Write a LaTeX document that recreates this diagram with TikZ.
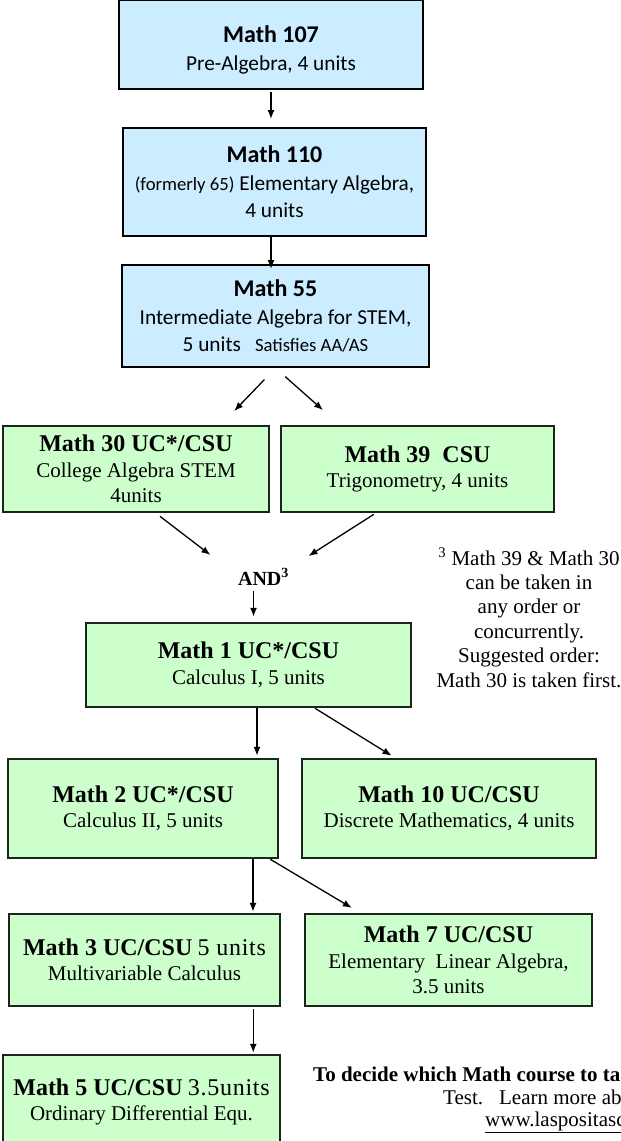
\documentclass[tikz,border=0pt]{standalone}
\usepackage{fontspec}
\setmainfont{Liberation Serif}
\newfontfamily\calibrifont{Carlito}
\usetikzlibrary{arrows.meta}
\definecolor{skyfill}{HTML}{CCECFF}
\definecolor{mintfill}{HTML}{CCFFCC}
\definecolor{mintline}{HTML}{1A261A}
\newcommand{\boxtitle}[1]{{\bfseries\fontsize{24}{26}\selectfont #1}}
\newcommand{\spacedunits}[1]{{\fontsize{24}{26}\selectfont\addfontfeature{LetterSpace=3}#1}}

\begin{document}
\begin{tikzpicture}[x=1pt, y=-1pt,
  skybox/.style={draw, line width=2pt, fill=skyfill, align=center, inner sep=1pt, font=\calibrifont\fontsize{21.3}{27.5}\selectfont},
  mintbox/.style={draw=mintline, line width=2.5pt, fill=mintfill, align=center, inner sep=1pt, font=\fontsize{21}{25.5}\selectfont},
  arr/.style={-{Latex[length=9pt,width=7pt]}, line width=1.3pt}]
\useasboundingbox (0,0) rectangle (621,1141);
% blue boxes
\node[skybox, minimum width=304, minimum height=89] (m107) at (271,44.5) {\rule{0pt}{28pt}\boxtitle{Math 107}\\Pre-Algebra, 4 units};
\node[skybox, minimum width=303, minimum height=108] (m110) at (274.5,182) {\boxtitle{Math 110}\\{\fontsize{18.7}{20}\selectfont (formerly 65)} Elementary Algebra,\\4 units};
\node[skybox, minimum width=307, minimum height=102] (m55) at (275.5,316) {\boxtitle{Math 55}\\Intermediate Algebra for STEM,\\5 units\hspace{14pt}{\fontsize{18.7}{20}\selectfont Satisfies AA/AS}};
% green boxes
\node[mintbox, minimum width=266, minimum height=86] (m30) at (136,469) {\boxtitle{Math 30 UC*/CSU}\\College Algebra STEM\\4units};
\node[mintbox, minimum width=273, minimum height=86] (m39) at (417.5,469) {\boxtitle{Math 39\ \ CSU}\\Trigonometry, 4 units};
\node[inner sep=0, font=\fontsize{20}{22}\selectfont\bfseries] (and) at (263.5,577) {AND\textsuperscript{3}};
\node[mintbox, minimum width=325, minimum height=84] (m1) at (248.5,665) {\boxtitle{Math 1 UC*/CSU}\\Calculus I, 5 units};
\node[mintbox, minimum width=270, minimum height=99] (m2) at (143,808.5) {\boxtitle{Math 2 UC*/CSU}\\Calculus II, 5 units};
\node[mintbox, minimum width=294, minimum height=99] (m10) at (449,808.5) {\boxtitle{Math 10 UC/CSU}\\Discrete Mathematics, 4 units};
\node[mintbox, minimum width=271, minimum height=92] (m3) at (144.5,960) {\boxtitle{Math 3 UC/CSU} \spacedunits{5 units}\\Multivariable Calculus};
\node[mintbox, minimum width=287, minimum height=92] (m7) at (448.5,960) {\boxtitle{Math 7 UC/CSU}\\Elementary\ \ Linear Algebra,\\3.5 units};
\node[mintbox, minimum width=277, minimum height=94] (m5) at (141.5,1102) {\boxtitle{Math 5 UC/CSU} \spacedunits{3.5units}\\Ordinary Differential Equ.};
% footnote
\foreach \t [count=\i from 0] in {{\textsuperscript{3} Math 39 \& Math 30}, can be taken in, any order or, concurrently., Suggested order:, Math 30 is taken first.}
  \node[anchor=base, font=\fontsize{21}{24}\selectfont] (note\i) at (529,565+24.4*\i) {\t};
\node[anchor=base west, inner xsep=0, font=\fontsize{21}{24}\selectfont\bfseries] (decide) at (313,1081) {To decide which Math course to ta};
\node[anchor=base west, inner xsep=0, font=\fontsize{21}{24}\selectfont] (learn) at (443,1104) {Test.\hspace{16pt}Learn more ab};
\node[anchor=base west, inner xsep=0, font=\fontsize{21}{24}\selectfont] (web) at (485,1126) {\underline{www.laspositasc}};
% arrows
\draw[arr, shorten <=2pt, shorten >=8pt] (m107.south) -- (m107.south |- m110.north);
\draw[arr, shorten >=-5pt] (m107.south |- m110.south) -- (m107.south |- m55.north);
\draw[arr, shorten <=16pt, shorten >=19pt] (m55.south) -- ([xshift=85pt]m30.north);
\draw[arr, shorten <=13pt, shorten >=22pt] (m55.south) -- ([xshift=-78pt]m39.north);
\draw[arr, shorten <=5pt, shorten >=22pt] ([xshift=20pt]m30.south) -- ([xshift=-10pt]and.north west);
\draw[arr, shorten <=2pt, shorten >=23pt] ([xshift=-42pt]m39.south) -- (and.north east);
\coordinate (andfoot) at ([xshift=-10pt]and.south);
\draw[arr, shorten <=5pt, shorten >=5pt] (andfoot) -- (andfoot |- m1.north);
\coordinate (m1foot) at ([xshift=8.5pt]m1.south);
\draw[arr, shorten >=2pt] (m1foot) -- (m1foot |- m2.north);
\draw[arr, shorten >=4pt] ([xshift=66.5pt]m1.south) -- ([xshift=-54pt]m10.north);
\coordinate (m2foot) at ([xshift=110pt]m2.south);
\draw[arr, shorten >=1pt] (m2foot) -- (m2foot |- m3.north);
\draw[arr, shorten >=9.5pt] ([xshift=-9pt]m2.south east) -- ([xshift=-88.5pt]m7.north);
\coordinate (m3foot) at ([xshift=-28pt]m3.south east);
\draw[arr, shorten <=2pt, shorten >=1pt] (m3foot) -- (m3foot |- m5.north);
\end{tikzpicture}
\end{document}
